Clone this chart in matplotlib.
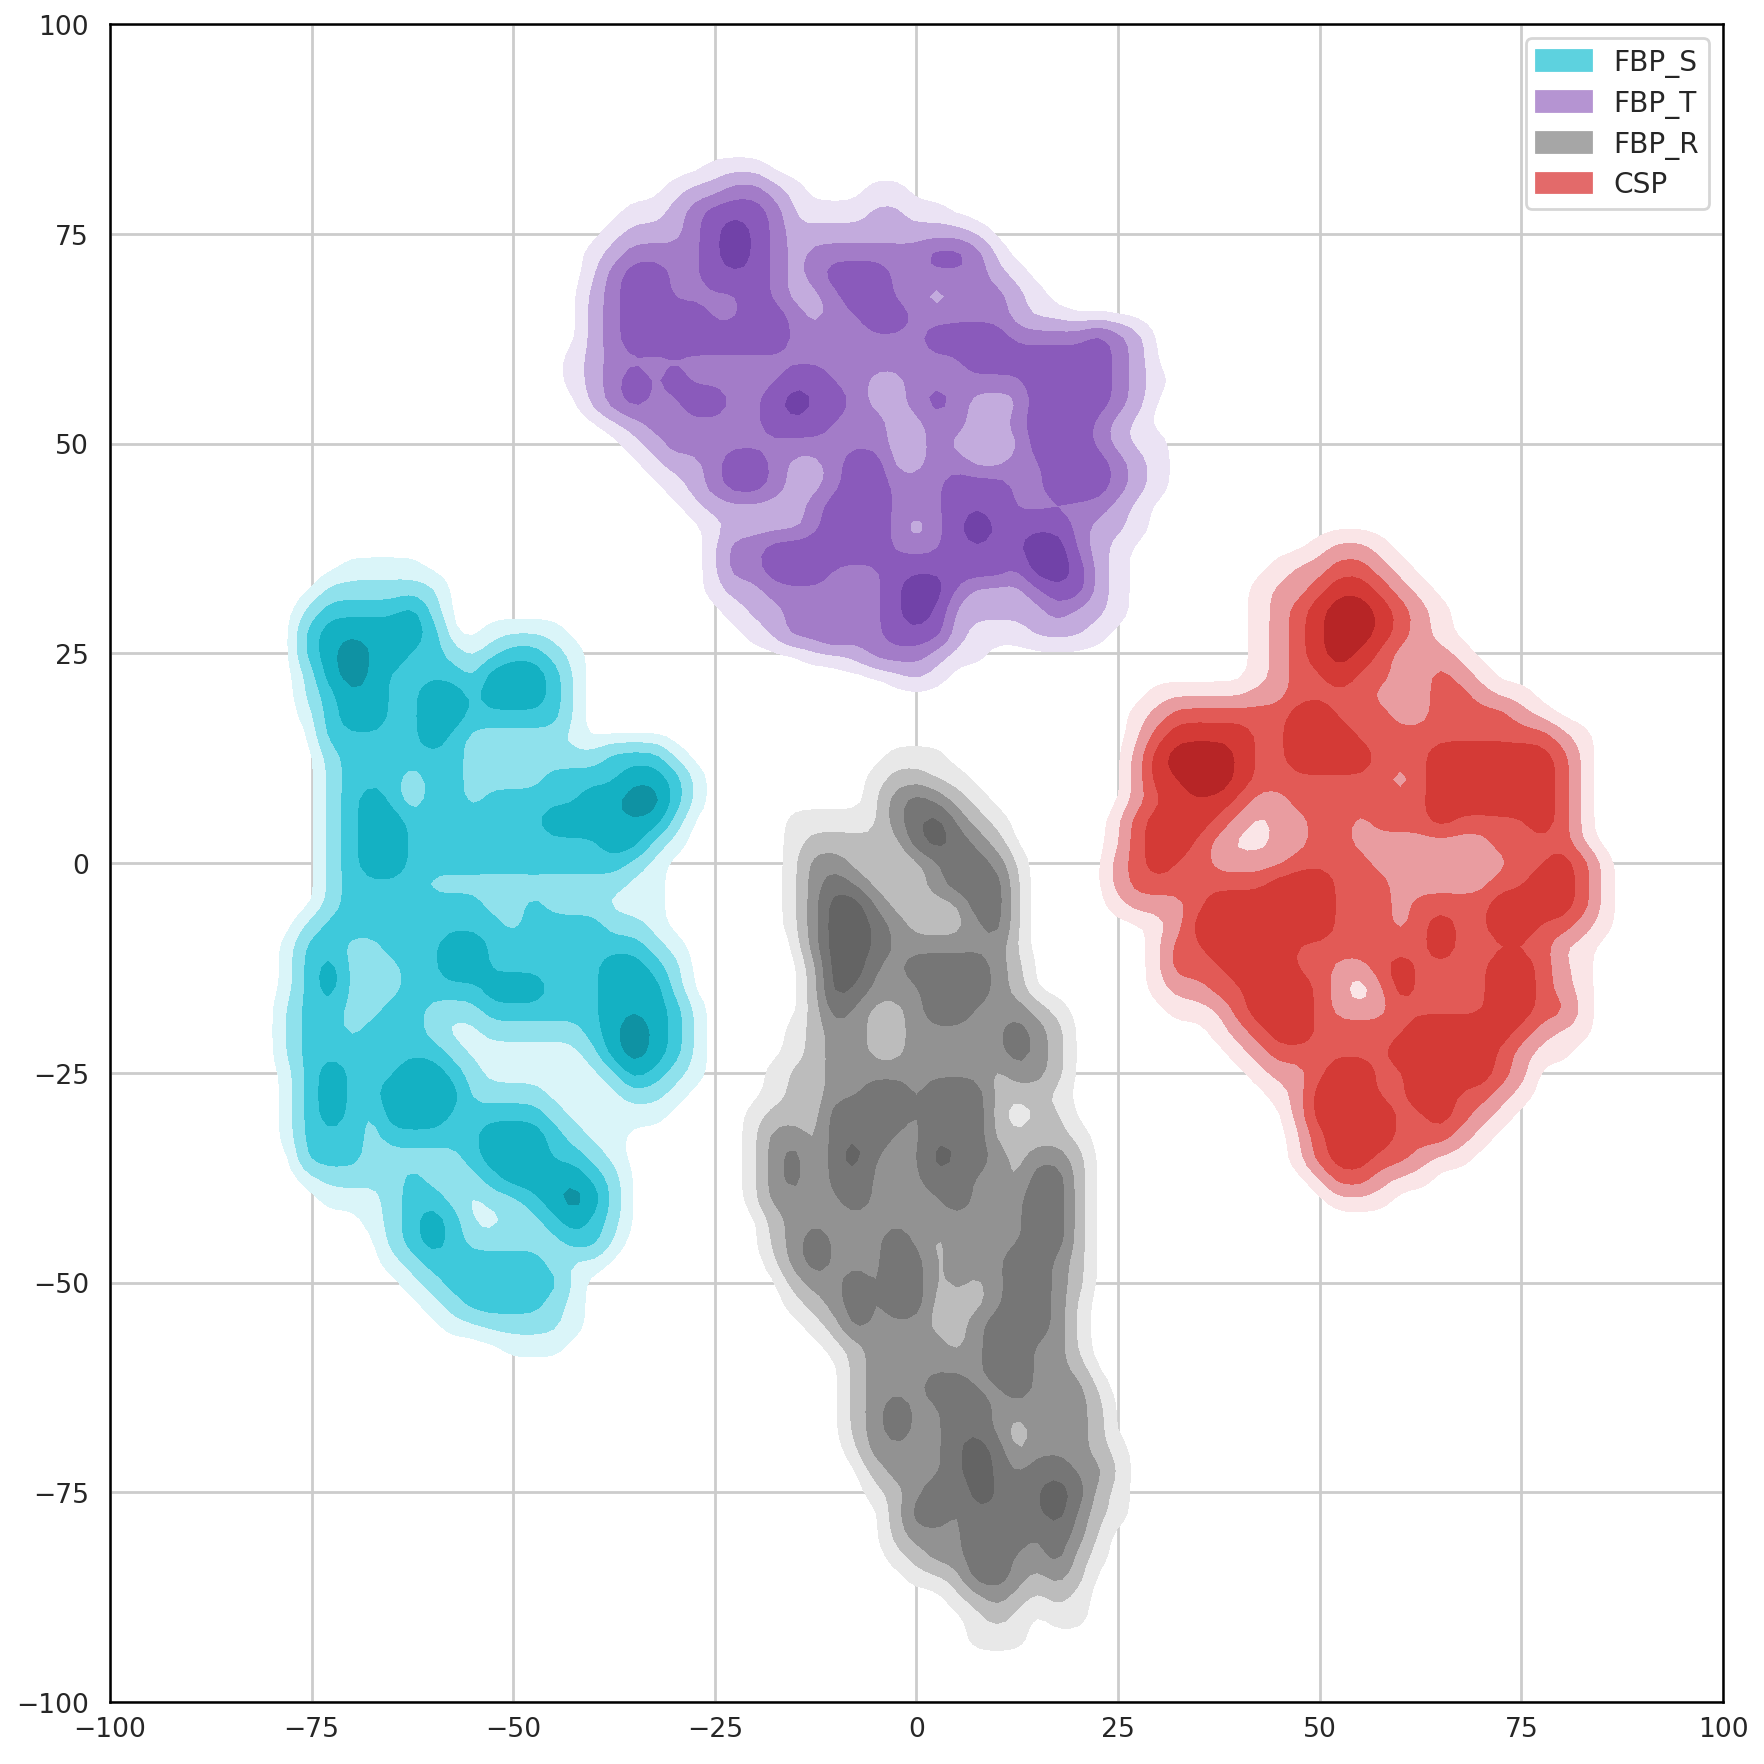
import matplotlib
matplotlib.use('Agg')
import matplotlib.pyplot as plt
from matplotlib.patches import Patch
import numpy as np

# density on a 2.5 unit lattice, one string per row (top row first)
# 0 empty, 1-5 = contour band seen at that spot
STEP = 2.5

fbp_s_x0, fbp_s_ytop = -80.0, 35.0
fbp_s = [
    "0000111100000000000000",
    "0002222220000000000000",
    "0023333420000000000000",
    "0034444430011110000000",
    "0034544332123321000000",
    "0024543333244431000000",
    "0023443344344431000000",
    "0013443344333331000000",
    "0003333343222221000000",
    "0002333333222222233310",
    "0002333133222233334431",
    "0002343133233333445531",
    "0002344333333344444420",
    "0002344333333333344210",
    "0002344333333333332100",
    "0002333322222222221100",
    "0002333333322322211100",
    "0023333333332333322100",
    "0133223334433333333210",
    "0134222334433333344320",
    "0134222333344433344420",
    "0233223322233333344431",
    "0233233321122222345431",
    "0233333332111111245431",
    "0134333443211111124321",
    "0134334444222211112210",
    "0134324443333321111100",
    "0133323333344432110000",
    "0033322222344433210000",
    "0012222322234444320000",
    "0001112332122345420000",
    "0000012343112234320000",
    "0000002343222223310000",
    "0000001233333321100000",
    "0000000123333331000000",
    "0000000012333321000000",
    "0000000001122221000000",
    "0000000000001110000000",
]

fbp_t_x0, fbp_t_ytop = -42.5, 82.5
fbp_t = [
    "000000011100000000000000000000",
    "000001223321000110000000000000",
    "000112344431111221100000000000",
    "001222345432222222221000000000",
    "012333345432333333443100000000",
    "013443344432344433333210000000",
    "023443333432234433133321000000",
    "023444433443233443333321100000",
    "023444444443333333444433334320",
    "123333333333333333334444444320",
    "123434333334433223333334444321",
    "023433443345443223432224444320",
    "001233333344433322332234443210",
    "000123333333333322322224443211",
    "000012234432234422332233444321",
    "000001234432234433344433444321",
    "000000122222344433344433333210",
    "000000012222344431345444432210",
    "000000013344444433344445532100",
    "000000013344433344444435542100",
    "000000012233333345532223442100",
    "000000001223333345422222322100",
    "000000000123343344421112221000",
    "000000000000112333211000000000",
    "000000000000000012100000000000",
]

fbp_r_x0, fbp_r_ytop = -20.0, 12.5
fbp_r = [
    "0000000111000000000",
    "0000001221100000000",
    "0000001343210000000",
    "0011111345321000000",
    "0012222245432000000",
    "0013322123443100000",
    "0013432223444100000",
    "0013553222244100000",
    "0013554322234100000",
    "0003554333333100000",
    "0002553344443200000",
    "0002543334443200000",
    "0002432234433321000",
    "0012332233333432000",
    "0012332233333432000",
    "0122333333332332000",
    "0122334434442221000",
    "1222444434442022000",
    "1332444334442222100",
    "1342453335443233200",
    "1342443334433244200",
    "1333343333433344200",
    "0233333333333344200",
    "0234333432333344200",
    "0134333442333443200",
    "0023343442323443200",
    "0012343442223443100",
    "0001243332234443100",
    "0000123333234433100",
    "0000023333334433200",
    "0000023334433433310",
    "0000023433443333320",
    "0000023433443133320",
    "0000013333454233321",
    "0000002333454344331",
    "0000001234354445421",
    "0000000244344445321",
    "0000000233344434310",
    "0000000123344334210",
    "0000000011244323200",
    "0000000000123212100",
    "0000000000012101100",
    "0000000000011100000",
]

csp_x0, csp_ytop = 25.0, 37.5
csp = [
    "0000000000122100000000000",
    "0000000012233210000000000",
    "0000000122344321000000000",
    "0000000123455432100000000",
    "0000000123455432100000000",
    "0000000123454322210000000",
    "0000000123343322321000000",
    "0011111223333222332110000",
    "0123333334433322333321000",
    "0134444334443333333333210",
    "0245554334444333444444310",
    "0244554333333313444444310",
    "0234443223333333444444310",
    "1344432122332333433334310",
    "1344321122332222222333310",
    "2343322223333222222233431",
    "2333333344433322222334431",
    "1222344444433323333444431",
    "0012444444433323433443321",
    "0013344443333333433333110",
    "0013334443322343333443210",
    "0012233444320243333443210",
    "0001113444322233333443310",
    "0000012344333334444432110",
    "0000001233333344444321100",
    "0000000122344334444320000",
    "0000000012444334433210000",
    "0000000002444433432100000",
    "0000000001344433321000000",
    "0000000001344332110000000",
    "0000000000133211000000000",
    "0000000000011100000000000",
]

band_values = [0.0, 1.0, 2.2, 5.0, 8.0, 11.0]
contour_levels = [0.5, 1.7, 3.6, 5.9, 8.6, 99.0]
bandwidth = 1.5

labels = ['FBP_S', 'FBP_T', 'FBP_R', 'CSP']
legend_colors = ['#5dd2df', '#b594d2', '#a6a6a6', '#e36a6a']
s_colors = ['#daf5f9', '#8fe1ec', '#3ec9db', '#14b1c3', '#0f92a3']
t_colors = ['#ebe3f4', '#c3abdd', '#a37cc8', '#8a5abb', '#7142a8']
r_colors = ['#e8e8e8', '#bcbcbc', '#929292', '#767676', '#646464']
c_colors = ['#fae5e7', '#e99ca0', '#e25a56', '#d43a36', '#b72526']


def kde_from_rows(rows, x0, ytop):
    ncol = max(len(r) for r in rows)
    weights = np.array([[band_values[int(c)] for c in r.ljust(ncol, '0')] for r in rows])
    xs = x0 + STEP * np.arange(ncol)
    ys = ytop - STEP * np.arange(len(rows))
    gx = np.arange(xs[0] - 8, xs[-1] + 8, 1.0)
    gy = np.arange(ys[-1] - 8, ys[0] + 8, 1.0)
    norm = STEP / (np.sqrt(2 * np.pi) * bandwidth)
    kx = norm * np.exp(-(gx[:, None] - xs[None, :]) ** 2 / (2 * bandwidth ** 2))
    ky = norm * np.exp(-(gy[:, None] - ys[None, :]) ** 2 / (2 * bandwidth ** 2))
    return gx, gy, ky @ weights @ kx.T


fig = plt.figure(figsize=(1765 / 200, 1765 / 200), dpi=200)
ax = fig.add_axes([110 / 1765, 1 - 1703 / 1765, 1613 / 1765, 1678 / 1765])

clusters = [
    (fbp_s, fbp_s_x0, fbp_s_ytop, s_colors),
    (fbp_t, fbp_t_x0, fbp_t_ytop, t_colors),
    (fbp_r, fbp_r_x0, fbp_r_ytop, r_colors),
    (csp, csp_x0, csp_ytop, c_colors),
]
for rows, x0, ytop, cols in clusters:
    gx, gy, z = kde_from_rows(rows, x0, ytop)
    ax.contourf(gx, gy, z, levels=contour_levels, colors=cols, zorder=3)

ticks = np.arange(-100, 101, 25)
ax.set_xlim(-100, 100)
ax.set_ylim(-100, 100)
ax.set_xticks(ticks)
ax.set_yticks(ticks)
ax.tick_params(length=0, labelsize=9.6, colors='#262626', pad=5)
ax.tick_params(axis='y', pad=7.5)
ax.grid(True, color='#cccccc', linewidth=1.0, zorder=0)
ax.set_axisbelow(True)
for s in ax.spines.values():
    s.set_color('black')
    s.set_linewidth(0.9)
    s.set_zorder(5)

handles = [Patch(color=c, label=l) for c, l in zip(legend_colors, labels)]
leg = ax.legend(handles=handles, loc='upper right', fontsize=10.1, frameon=True,
                fancybox=True, framealpha=0.8, edgecolor='#cccccc',
                borderaxespad=0.5, labelspacing=0.42, borderpad=0.36,
                handlelength=1.95, labelcolor='#262626')
leg.set_zorder(6)

fig.savefig('out.png', dpi=200)
